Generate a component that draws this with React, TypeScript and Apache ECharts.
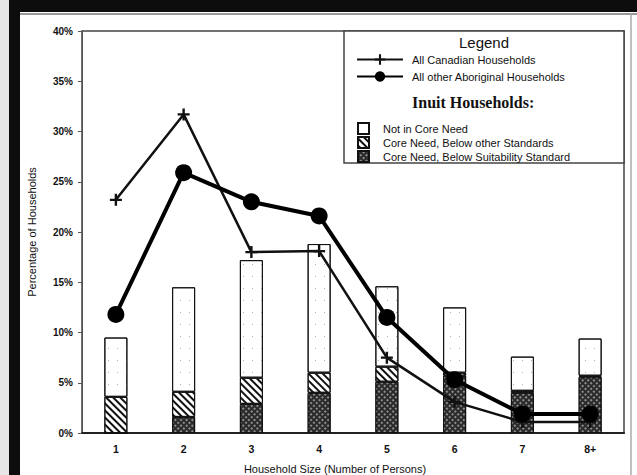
import React, { useEffect, useRef } from "react";
import * as echarts from "echarts";

const categories = ["1", "2", "3", "4", "5", "6", "7", "8+"];
const canadian = [23.2, 31.7, 18.0, 18.1, 7.5, 3.1, 1.1, 1.1];
const aboriginal = [11.8, 25.9, 23.0, 21.6, 11.5, 5.3, 1.9, 1.9];
const suitability = [0, 1.6, 2.9, 4.0, 5.1, 5.7, 4.0, 5.6];
const otherStd = [3.6, 2.5, 2.6, 2.0, 1.5, 0.3, 0.2, 0.1];
const notCore = [5.9, 10.4, 11.7, 12.8, 8.0, 6.5, 3.4, 3.7];

const nameCanadian = "All Canadian Households";
const nameAboriginal = "All other Aboriginal Households";
const nameNot = "Not in Core Need";
const nameOther = "Core Need, Below other Standards";
const nameSuit = "Core Need, Below Suitability Standard";

const FONT = "Liberation Sans";

export default function App() {
  const ref = useRef<HTMLDivElement>(null);
  useEffect(() => {
    if (!ref.current) return;
    const chart = echarts.init(ref.current, null, { renderer: "svg" });
    const plus = "path://M4,0H6V4H10V6H6V10H4V6H0V4H4Z";
    const stipple = {
      symbol: "rect",
      symbolSize: 1,
      color: "#b0b0b0",
      dashArrayX: [1, 8],
      dashArrayY: [1, 11],
      rotation: 0,
    };
    const hatch = {
      symbol: "rect",
      symbolSize: 1,
      color: "#111",
      dashArrayX: [1, 0],
      dashArrayY: [2, 2.5],
      rotation: Math.PI / 4,
    };
    const cross = {
      symbol: "rect",
      symbolSize: 0.8,
      color: "#cfcfcf",
      dashArrayX: [2, 2],
      dashArrayY: [2, 2],
      rotation: Math.PI / 4,
    };
    chart.setOption({
      animation: false,
      backgroundColor: "#ffffff",
      textStyle: { fontFamily: FONT },
      grid: {
        left: 82,
        right: 13,
        top: 31,
        bottom: 42,
        containLabel: false,
        outerBoundsMode: "none",
        show: true,
        borderColor: "#444",
        borderWidth: 1.5,
      },
      graphic: [
        { type: "rect", shape: { x: 0, y: 0, width: 637, height: 12 }, style: { fill: "#0d0d0d" }, z: 100 },
        { type: "rect", shape: { x: 9, y: 0, width: 11, height: 475 }, style: { fill: "#0d0d0d" }, z: 100 },
        { type: "rect", shape: { x: 0, y: 0, width: 9, height: 475 }, style: { fill: "#e6e6e6" }, z: 100 },
        { type: "line", shape: { x1: 20, y1: 14, x2: 637, y2: 14 }, style: { stroke: "#999", lineWidth: 2 }, z: 100 },
        { type: "line", shape: { x1: 631, y1: 14, x2: 631, y2: 475 }, style: { stroke: "#aaa", lineWidth: 1.5 }, z: 100 },
        {
          type: "rect",
          shape: { x: 344, y: 31, width: 280, height: 132 },
          style: { fill: "#fff", stroke: "#444", lineWidth: 1.5 },
          z: 5,
        },
        {
          type: "text",
          x: 484,
          y: 42,
          style: { text: "Legend", font: `15px "${FONT}"`, fill: "#111", align: "center", verticalAlign: "middle" },
          z: 6,
        },
        {
          type: "text",
          x: 412,
          y: 102,
          style: {
            text: "Inuit Households:",
            font: `bold 16px "Liberation Serif"`,
            fill: "#111",
            align: "left",
            verticalAlign: "middle",
          },
          z: 6,
        },
      ],
      legend: [
        {
          data: [nameCanadian, nameAboriginal],
          left: 356,
          top: 54,
          orient: "vertical",
          padding: 0,
          itemGap: 6,
          itemWidth: 46,
          itemHeight: 13,
          textStyle: { fontSize: 11, color: "#111", fontFamily: FONT, padding: [0, 0, 0, 4] },
          z: 10,
        },
        {
          data: [nameNot, nameOther, nameSuit],
          left: 357,
          top: 122,
          orient: "vertical",
          padding: 0,
          itemGap: 1,
          itemWidth: 11,
          itemHeight: 11,
          icon: "rect",
          textStyle: { fontSize: 11, color: "#111", fontFamily: FONT, padding: [0, 0, 0, 9] },
          z: 10,
        },
      ],
      xAxis: {
        type: "category",
        data: categories,
        name: "Household Size (Number of Persons)",
        nameLocation: "middle",
        nameGap: 30,
        nameTextStyle: { fontSize: 11, color: "#111", padding: [0, 36, 0, 0] },
        axisLine: { lineStyle: { color: "#222", width: 2 } },
        axisTick: { alignWithLabel: true, length: 4, lineStyle: { color: "#444" } },
        axisLabel: { fontSize: 10.5, fontWeight: "bold", color: "#111", margin: 10 },
      },
      yAxis: {
        type: "value",
        min: 0,
        max: 40,
        interval: 5,
        name: "Percentage of Households",
        nameLocation: "middle",
        nameGap: 45,
        nameTextStyle: { fontSize: 11, color: "#111" },
        axisLine: { show: true, lineStyle: { color: "#555", width: 1 } },
        axisTick: { show: true, length: 4, lineStyle: { color: "#555" } },
        splitLine: { show: false },
        axisLabel: { fontSize: 10, fontWeight: "bold", color: "#111", margin: 9, formatter: "{value}%" },
      },
      series: [
        {
          name: nameSuit,
          type: "bar",
          stack: "inuit",
          data: suitability,
          barWidth: 23,
          itemStyle: { color: "#2a2a2a", borderColor: "#111", borderWidth: 1, decal: cross },
        },
        {
          name: nameOther,
          type: "bar",
          stack: "inuit",
          data: otherStd,
          barWidth: 23,
          itemStyle: { color: "#ffffff", borderColor: "#111", borderWidth: 1, decal: hatch },
        },
        {
          name: nameNot,
          type: "bar",
          stack: "inuit",
          data: notCore,
          barWidth: 23,
          itemStyle: { color: "#ffffff", borderColor: "#111", borderWidth: 1, decal: stipple },
        },
        {
          name: nameCanadian,
          type: "line",
          data: canadian,
          symbol: plus,
          symbolSize: 12,
          lineStyle: { color: "#111", width: 2.5 },
          itemStyle: { color: "#111" },
          z: 4,
        },
        {
          name: nameAboriginal,
          type: "line",
          data: aboriginal,
          symbol: "circle",
          symbolSize: 17,
          lineStyle: { color: "#000", width: 4 },
          itemStyle: { color: "#000" },
          z: 4,
        },
      ],
    });
    return () => chart.dispose();
  }, []);
  return (
    <div
      ref={ref}
      style={{ position: "fixed", left: 0, top: 0, width: 637, height: 475 }}
    />
  );
}
